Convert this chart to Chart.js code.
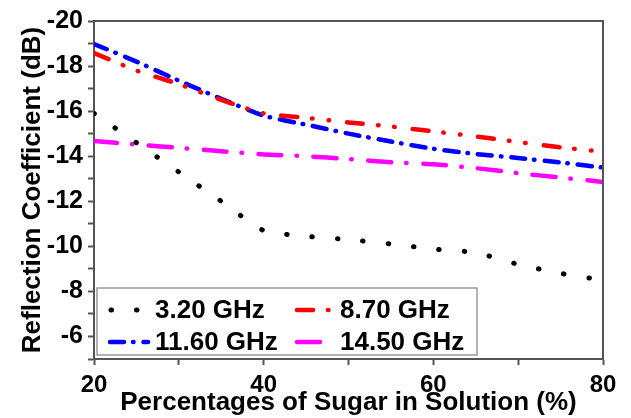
<!DOCTYPE html>
<html>
<head>
<meta charset="utf-8">
<script src="https://cdn.jsdelivr.net/npm/chart.js@4.4.1/dist/chart.umd.min.js"></script>
<style>
 html, body { margin: 0; padding: 0; background: #fff; }
 #wrap { width: 631px; height: 418px; }
</style>
</head>
<body>
<div id="wrap"><canvas id="chart" width="631" height="418"></canvas></div>
<script>
// sugar percentage (x) and reflection coefficient (dB)
const sugarPct = [20, 25, 30, 35, 40, 45, 50, 55, 60, 65, 70, 75, 80];
const ghz320 = [-15.9, -14.6, -13.3, -12.0, -10.7, -10.45, -10.3, -10.1, -9.88, -9.72, -9.2, -8.8, -8.5];
const ghz870 = [-18.58, -17.8, -17.2, -16.5, -15.9, -15.7, -15.5, -15.32, -15.1, -14.88, -14.63, -14.39, -14.2];
const ghz1160 = [-18.98, -18.2, -17.35, -16.55, -15.8, -15.4, -15.0, -14.65, -14.33, -14.1, -13.92, -13.72, -13.5];
const ghz1450 = [-14.67, -14.52, -14.37, -14.22, -14.08, -14.0, -13.87, -13.73, -13.64, -13.47, -13.25, -13.05, -12.86];
const seriesLabels = ['3.20 GHz', '8.70 GHz', '11.60 GHz', '14.50 GHz'];
const xTickLabels = [20, 40, 60, 80];
const yTickLabels = [-20, -18, -16, -14, -12, -10, -8, -6];

const FONT = '"Liberation Sans", Arial, sans-serif';
const AXIS = '#555';

const pts = vals => vals.map((v, i) => ({ x: sugarPct[i], y: v }));

function line(label, vals, color, dash, width) {
 return {
 label,
 data: pts(vals),
 borderColor: color,
 backgroundColor: color,
 borderWidth: width,
 borderDash: dash,
 borderCapStyle: 'round',
 pointRadius: 0,
 fill: false,
 tension: 0.2,
 };
}

// legend drawn inside the plot, like the original
const innerLegend = {
 id: 'innerLegend',
 afterDraw(chart) {
 const ctx = chart.ctx;
 const a = chart.chartArea;
 ctx.save();
 // frame: top and right sides
 ctx.strokeStyle = AXIS;
 ctx.lineWidth = 2;
 ctx.beginPath();
 ctx.moveTo(a.left, a.top);
 ctx.lineTo(a.right, a.top);
 ctx.lineTo(a.right, a.bottom);
 ctx.stroke();

 const bx = a.left + 3, by = 288, bw = 380, bh = 67;
 ctx.fillStyle = '#fff';
 ctx.fillRect(bx, by, bw, bh);
 ctx.strokeStyle = '#999';
 ctx.lineWidth = 1.5;
 ctx.strokeRect(bx, by, bw, bh);

 const slots = [
 { sx: 111, ex: 148, tx: 155, y: 310 },
 { sx: 297, ex: 332, tx: 340, y: 310 },
 { sx: 110, ex: 148, tx: 155, y: 342 },
 { sx: 297, ex: 332, tx: 340, y: 342 },
 ];
 chart.data.datasets.forEach((ds, i) => {
 const s = slots[i];
 ctx.strokeStyle = ds.borderColor;
 ctx.lineWidth = ds.borderWidth;
 ctx.lineCap = 'round';
 ctx.setLineDash(ds.borderDash);
 ctx.beginPath();
 ctx.moveTo(s.sx, s.y);
 ctx.lineTo(s.ex, s.y);
 ctx.stroke();
 ctx.setLineDash([]);
 ctx.fillStyle = '#000';
 ctx.font = 'bold 26px ' + FONT;
 ctx.textBaseline = 'middle';
 ctx.textAlign = 'left';
 ctx.fillText(ds.label, s.tx, s.y + 1);
 });
 ctx.restore();
 }
};

new Chart(document.getElementById('chart'), {
 type: 'line',
 data: {
 datasets: [
 line(seriesLabels[0], ghz320, '#000000', [0.5, 25], 5),
 line(seriesLabels[1], ghz870, '#ff0000', [16, 15, 0.5, 16, 0.5, 18], 4.5),
 line(seriesLabels[2], ghz1160, '#0000ff', [14, 9, 0.5, 10], 4.5),
 line(seriesLabels[3], ghz1450, '#ff00ff', [23, 15, 0.5, 16.5], 4.5),
 ],
 },
 options: {
 responsive: false,
 animation: false,
 devicePixelRatio: 1,
 layout: { padding: { left: 13, top: 21, right: 28, bottom: 0 } },
 plugins: { legend: { display: false }, tooltip: { enabled: false } },
 scales: {
 x: {
 type: 'linear',
 min: 20,
 max: 80,
 afterFit: s => { s.height = 59; },
 ticks: {
 stepSize: 10,
 autoSkip: false,
 maxRotation: 0,
 padding: 6,
 color: '#000',
 font: { family: FONT, size: 24, weight: 'bold' },
 callback: v => xTickLabels.includes(v) ? String(v) : '',
 },
 grid: { drawOnChartArea: false, tickLength: 6, tickWidth: 2, tickColor: AXIS },
 border: { color: AXIS, width: 2 },
 title: {
 display: true,
 text: 'Percentages of Sugar in Solution (%)',
 color: '#000',
 font: { family: FONT, size: 26, weight: 'bold' },
 padding: { top: 0, bottom: 0 },
 },
 },
 y: {
 min: -20,
 max: -5,
 reverse: true,
 afterFit: s => { s.width = 81; },
 ticks: {
 stepSize: 1,
 autoSkip: false,
 padding: 5,
 color: '#000',
 font: { family: FONT, size: 25, weight: 'bold' },
 callback: v => yTickLabels.includes(v) ? String(v) : '',
 },
 grid: { drawOnChartArea: false, tickLength: 6, tickWidth: 2, tickColor: AXIS },
 border: { color: AXIS, width: 2 },
 title: {
 display: true,
 text: 'Reflection Coefficient (dB)',
 color: '#000',
 font: { family: FONT, size: 26, weight: 'bold' },
 padding: { top: 4, bottom: 4 },
 },
 },
 },
 },
 plugins: [innerLegend],
});
</script>
</body>
</html>
